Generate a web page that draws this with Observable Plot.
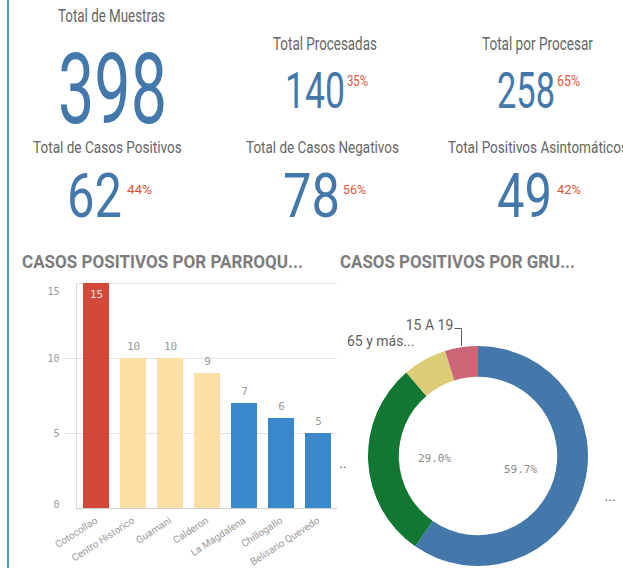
<!DOCTYPE html>
<html>
<head>
<meta charset="utf-8">
<script src="https://cdn.jsdelivr.net/npm/d3@7"></script>
<script src="https://cdn.jsdelivr.net/npm/@observablehq/plot@0.6"></script>
<style>
html, body { margin: 0; padding: 0; background: #fff; }
#page { position: relative; width: 623px; height: 568px; overflow: hidden; background: #fff; font-family: Roboto, "Liberation Sans", sans-serif; }
#border { position: absolute; left: 7px; top: 0; width: 2px; height: 568px; background: #4b8fd8; }
#kpi { position: absolute; left: 0; top: 0; }
#bars { position: absolute; left: 0; top: 270px; }
#donut { position: absolute; left: 330px; top: 270px; }
</style>
</head>
<body>
<div id="page">
  <div id="border"></div>
  <svg id="kpi" width="623" height="568"></svg>
  <div id="bars"></div>
  <div id="donut"></div>
</div>
<script>
// ---------------- DATA ----------------
const kpiLabels = ["Total de Muestras", "Total Procesadas", "Total por Procesar",
                   "Total de Casos Positivos", "Total de Casos Negativos", "Total Positivos Asintomáticos"];
const kpiValues = [398, 140, 258, 62, 78, 49];
const kpiPercents = ["", "35%", "65%", "44%", "56%", "42%"];

const chartTitles = ["CASOS POSITIVOS POR PARROQU...", "CASOS POSITIVOS POR GRU..."];

const parishes = ["Cotocollao", "Centro Historico", "Guamani", "Calderon", "La Magdalena", "Chillogallo", "Belisario Quevedo"];
const parishCases = [15, 10, 10, 9, 7, 6, 5];
const yTicks = [0, 5, 10, 15];

const ageGroups = ["20 A 49", "50 A 64", "65 y más", "15 A 19"];
const ageLabels = ["...", "..", "65 y más...", "15 A 19"];
const ageCases = [37, 18, 4, 3];

// ---------------- STYLE / LAYOUT ----------------
const sans = "Roboto, 'Liberation Sans', sans-serif";
const mono = "'DejaVu Sans Mono', 'Liberation Mono', monospace";
const blueNum = "#4477aa", grayLbl = "#5f5f5f", redPct = "#e0553a";

// KPI layout: [x0, x1, baseline, fontSize]
const kpiLayout = [
  {label: [58, 165, 22, 18],  value: [58, 167, 123, 98],  pct: null},
  {label: [273, 377, 50, 18], value: [285, 345, 108, 50], pct: [347, 368, 86, 15]},
  {label: [482, 593, 50, 18], value: [497, 555, 108, 50], pct: [557, 580, 86, 15]},
  {label: [33, 182, 153, 16], value: [67, 122, 217, 61],  pct: [127, 152, 194, 13]},
  {label: [246, 399, 153, 16], value: [283, 340, 217, 61], pct: [343, 366, 194, 13]},
  {label: [448, 628, 153, 16], value: [497, 552, 217, 61], pct: [557, 581, 194, 13]}
];
const titleLayout = [[22, 303, 268, 17.5], [340, 575, 268, 17.5]];

const kpiSvg = d3.select("#kpi");
// Draw a text whose natural width equals x1-x0; the height is reached by a vertical stretch.
function addText(str, box, color, weight) {
  const [x0, x1, base, size] = box;
  const t = kpiSvg.append("text")
    .attr("x", 0).attr("y", 0)
    .attr("font-family", sans)
    .attr("font-size", size)
    .attr("font-weight", weight)
    .attr("fill", color)
    .text(str);
  const w = t.node().getComputedTextLength();
  const f = size * (x1 - x0) / w;
  t.attr("font-size", f)
   .attr("transform", `translate(${x0},${base}) scale(1,${size / f})`);
}
kpiLabels.forEach((lbl, i) => {
  const L = kpiLayout[i];
  addText(lbl, L.label, "#666", 400);
  addText(String(kpiValues[i]), L.value, blueNum, 400);
  if (L.pct && kpiPercents[i]) addText(kpiPercents[i], L.pct, redPct, 400);
});
chartTitles.forEach((t, i) => addText(t, titleLayout[i], "#7d7d7d", 700));

// ---------------- BAR CHART ----------------
const parishData = parishes.map((p, i) => ({parish: p, cases: parishCases[i]}));
const yMax = d3.max(yTicks);

const leftAxisLine = (index, scales, values, dims) => {
  const l = document.createElementNS("http://www.w3.org/2000/svg", "line");
  l.setAttribute("x1", dims.marginLeft + 0.5);
  l.setAttribute("x2", dims.marginLeft + 0.5);
  l.setAttribute("y1", scales.y(yMax));
  l.setAttribute("y2", scales.y(0));
  l.setAttribute("stroke", "#dcdcdc");
  return l;
};

const axisText = {fill: "#9a9a9a", fontSize: 10, fontFamily: mono, label: null};
const barChart = Plot.plot({
  width: 340, height: 298,
  marginLeft: 76, marginRight: 3, marginTop: 13, marginBottom: 60,
  style: {background: "transparent", fontFamily: sans, color: "#9a9a9a", overflow: "visible"},
  x: {domain: parishes, paddingInner: 0.3, paddingOuter: 0.15, label: null},
  y: {domain: [0, yMax], label: null},
  color: {type: "threshold", domain: [8, 12], range: ["#3b87cb", "#fddfa5", "#d2483a"]},
  marks: [
    Plot.gridY(yTicks, {stroke: "#e2e2e2", strokeOpacity: 1}),
    Plot.axisY(yTicks.filter(t => t > 0 && t < yMax), {tickSize: 11, tickPadding: 6, stroke: "#e2e2e2", ...axisText}),
    Plot.axisY([yMax], {tickSize: 0, tickPadding: 17, dy: 8, ...axisText}),
    Plot.axisY([0], {tickSize: 0, tickPadding: 17, dy: -4, ...axisText}),
    Plot.barY(parishData, {x: "parish", y: "cases", fill: "cases"}),
    Plot.ruleY([0], {stroke: "#d0d0d0"}),
    leftAxisLine,
    Plot.text(parishData.filter(d => d.cases < yMax), {x: "parish", y: "cases", text: d => String(d.cases), dy: -12, fill: "#9a9a9a", fontSize: 11, fontFamily: mono}),
    Plot.text(parishData.filter(d => d.cases >= yMax), {x: "parish", y: "cases", text: d => String(d.cases), dy: 11, fill: "#fbe4dc", fontSize: 11, fontFamily: mono}),
    Plot.axisX({tickRotate: -33, tickSize: 0, tickPadding: 11, fontSize: 10, fill: "#9a9a9a", label: null})
  ]
});
document.getElementById("bars").appendChild(barChart);

// ---------------- DONUT ----------------
const ageColors = ["#4477aa", "#117733", "#ddcc77", "#cc6677"];
const colorScale = Plot.scale({color: {type: "ordinal", domain: ageGroups, range: ageColors}});
const total = d3.sum(ageCases);
const ageData = ageGroups.map((g, i) => ({group: g, label: ageLabels[i], cases: ageCases[i]}));
const pie = d3.pie().sort(null).value(d => d.cases);
const arcs = pie(ageData);
arcs.forEach(a => { a.data.mid = (a.startAngle + a.endAngle) / 2; a.data.share = a.data.cases / total; });
const pct = d3.format(".1%");

const S = 110, DW = 293, DH = 298, CX = 148, CY = 186;
const innerRatio = 0.72, labelR = 1.2, pctR = 0.4;
const leader = ageData[ageGroups.indexOf("15 A 19")];
const leaderY = 1.1636;
const lx = 1.02 * Math.sin(leader.mid);
const leaderPts = [
  {x: lx, y: 1.02 * Math.cos(leader.mid)},
  {x: lx, y: leaderY},
  {x: lx - 0.06, y: leaderY}
];

const ring = (index, scales) => {
  const x0 = scales.x(0), y0 = scales.y(0), r = scales.x(1) - x0;
  const arc = d3.arc().innerRadius(r * innerRatio).outerRadius(r);
  const g = d3.create("svg:g").attr("transform", `translate(${x0},${y0})`);
  g.selectAll("path").data(arcs).join("path")
    .attr("d", arc)
    .attr("fill", d => colorScale.apply(d.data.group));
  return g.node();
};

const outer = ageData.filter(d => d !== leader);
const lblStyle = {fontSize: 14, fill: grayLbl, fontFamily: sans};
const donut = Plot.plot({
  width: DW, height: DH, margin: 0,
  style: {background: "transparent", overflow: "visible"},
  x: {domain: [-CX / S, (DW - CX) / S], range: [0, DW], axis: null},
  y: {domain: [-(DH - CY) / S, CY / S], range: [DH, 0], axis: null},
  marks: [
    ring,
    Plot.text(ageData.filter(d => d.share > 0.1), {x: d => pctR * Math.sin(d.mid), y: d => pctR * Math.cos(d.mid), text: d => pct(d.share), fill: "#8a8a8a", fontSize: 11, fontFamily: mono}),
    Plot.text(outer.filter(d => Math.sin(d.mid) < 0), {x: d => labelR * Math.sin(d.mid), y: d => labelR * Math.cos(d.mid), text: "label", textAnchor: "end", ...lblStyle}),
    Plot.text(outer.filter(d => Math.sin(d.mid) >= 0), {x: d => labelR * Math.sin(d.mid), y: d => labelR * Math.cos(d.mid), text: "label", textAnchor: "start", ...lblStyle}),
    Plot.line(leaderPts, {x: "x", y: "y", stroke: grayLbl, strokeWidth: 1}),
    Plot.text([leader], {x: () => lx - 0.075, y: () => leaderY, text: "label", textAnchor: "end", lineAnchor: "bottom", dy: 1, ...lblStyle})
  ]
});
document.getElementById("donut").appendChild(donut);
</script>
</body>
</html>
